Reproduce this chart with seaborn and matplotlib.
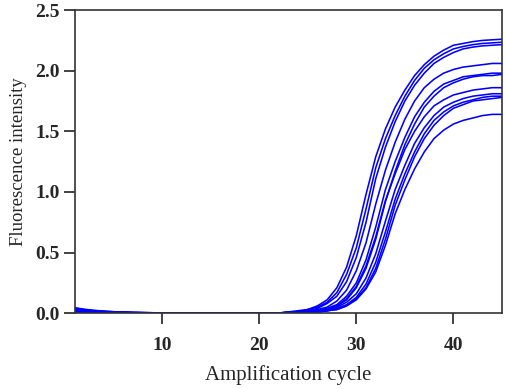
import pandas as pd
import seaborn as sns
import matplotlib
matplotlib.use("Agg")
import matplotlib.pyplot as plt

# Zyklen 1..45
cycles = list(range(1, 46))

# Fluoreszenzkurven, je 45 Werte
c1 = [0.045, 0.032, 0.023, 0.017, 0.012, 0.009, 0.006, 0.005, 0.003, 0.002, 0.002, 0.001, 0.001,
      0, 0, 0, 0, 0, 0, 0, 0,
      0.00, 0.01, 0.02, 0.03, 0.06, 0.11, 0.21, 0.38, 0.64, 0.98, 1.29, 1.52, 1.70, 1.84, 1.96, 2.05,
      2.12, 2.17, 2.21, 2.225, 2.24, 2.25, 2.255, 2.26]
c2 = [0.040, 0.029, 0.021, 0.015, 0.011, 0.008, 0.006, 0.004, 0.003, 0.002, 0.001, 0.001, 0.001,
      0, 0, 0, 0, 0, 0, 0, 0,
      0.00, 0.01, 0.01, 0.03, 0.05, 0.09, 0.17, 0.32, 0.54, 0.86, 1.20, 1.44, 1.63, 1.79, 1.92, 2.02,
      2.09, 2.14, 2.18, 2.20, 2.215, 2.225, 2.23, 2.235]
c3 = [0.035, 0.025, 0.018, 0.013, 0.009, 0.007, 0.005, 0.004, 0.003, 0.002, 0.001, 0.001, 0,
      0, 0, 0, 0, 0, 0, 0, 0,
      0.00, 0.01, 0.01, 0.02, 0.04, 0.08, 0.14, 0.26, 0.46, 0.75, 1.11, 1.37, 1.58, 1.75, 1.88, 1.98,
      2.06, 2.11, 2.15, 2.18, 2.195, 2.205, 2.21, 2.215]
c4 = [0.030, 0.022, 0.016, 0.011, 0.008, 0.006, 0.004, 0.003, 0.002, 0.002, 0.001, 0.001, 0,
      0, 0, 0, 0, 0, 0, 0, 0,
      0.00, 0.00, 0.01, 0.01, 0.03, 0.05, 0.10, 0.19, 0.35, 0.58, 0.90, 1.18, 1.41, 1.60, 1.75, 1.86,
      1.93, 1.98, 2.01, 2.03, 2.04, 2.05, 2.06, 2.06]
c5 = [0.025, 0.018, 0.013, 0.009, 0.007, 0.005, 0.003, 0.003, 0.002, 0.001, 0.001, 0, 0,
      0, 0, 0, 0, 0, 0, 0, 0,
      0.00, 0.00, 0.01, 0.01, 0.02, 0.04, 0.07, 0.14, 0.25, 0.44, 0.71, 1.02, 1.25, 1.45, 1.62, 1.74,
      1.83, 1.89, 1.92, 1.95, 1.96, 1.97, 1.98, 1.98]
c6 = [0.020, 0.014, 0.010, 0.007, 0.005, 0.004, 0.003, 0.002, 0.001, 0.001, 0.001, 0, 0,
      0, 0, 0, 0, 0, 0, 0, 0,
      0.00, 0.00, 0.00, 0.01, 0.02, 0.03, 0.06, 0.11, 0.21, 0.37, 0.61, 0.92, 1.17, 1.39, 1.56, 1.70,
      1.79, 1.86, 1.90, 1.93, 1.95, 1.96, 1.96, 1.97]
c7 = [0.015, 0.011, 0.008, 0.006, 0.004, 0.003, 0.002, 0.002, 0.001, 0.001, 0, 0, 0,
      0, 0, 0, 0, 0, 0, 0, 0,
      0.00, 0.00, 0.00, 0.01, 0.02, 0.03, 0.06, 0.12, 0.22, 0.39, 0.63, 0.93, 1.15, 1.35, 1.50, 1.62,
      1.71, 1.76, 1.80, 1.82, 1.84, 1.85, 1.86, 1.86]
c8 = [0.030, 0.022, 0.016, 0.011, 0.008, 0.006, 0.004, 0.003, 0.002, 0.002, 0.001, 0.001, 0,
      0, 0, 0, 0, 0, 0, 0, 0,
      0.00, 0.00, 0.00, 0.01, 0.01, 0.02, 0.05, 0.09, 0.16, 0.29, 0.49, 0.76, 1.02, 1.22, 1.40, 1.53,
      1.63, 1.70, 1.74, 1.77, 1.79, 1.80, 1.81, 1.81]
c9 = [0.010, 0.007, 0.005, 0.004, 0.003, 0.002, 0.001, 0.001, 0.001, 0, 0, 0, 0,
      0, 0, 0, 0, 0, 0, 0, 0,
      0.00, 0.00, 0.00, 0.01, 0.01, 0.02, 0.04, 0.07, 0.13, 0.24, 0.42, 0.67, 0.94, 1.15, 1.33, 1.48,
      1.59, 1.66, 1.71, 1.74, 1.76, 1.78, 1.79, 1.79]
c10 = [0.005, 0.004, 0.003, 0.002, 0.001, 0.001, 0.001, 0, 0, 0, 0, 0, 0,
       0, 0, 0, 0, 0, 0, 0, 0,
       0.00, 0.00, 0.00, 0.00, 0.01, 0.02, 0.03, 0.06, 0.12, 0.21, 0.37, 0.61, 0.89, 1.10, 1.29, 1.44,
       1.55, 1.63, 1.69, 1.72, 1.75, 1.76, 1.77, 1.78]
c11 = [0.020, 0.014, 0.010, 0.007, 0.005, 0.004, 0.003, 0.002, 0.001, 0.001, 0.001, 0, 0,
       0, 0, 0, 0, 0, 0, 0, 0,
       0.00, 0.00, 0.00, 0.00, 0.01, 0.02, 0.03, 0.06, 0.11, 0.20, 0.34, 0.56, 0.82, 1.02, 1.19, 1.33,
       1.44, 1.51, 1.56, 1.59, 1.61, 1.63, 1.64, 1.64]

kurven = [c1, c2, c3, c4, c5, c6, c7, c8, c9, c10, c11]

# Long-Format fuer seaborn
rows = []
for i, werte in enumerate(kurven):
    for x, v in zip(cycles, werte):
        rows.append({"kurve": i, "cycle": x, "value": v})
df = pd.DataFrame(rows)

sns.set_style("ticks")
plt.rcParams["font.family"] = ["Liberation Serif", "DejaVu Serif"]

fig = plt.figure(figsize=(5.05, 3.89), dpi=100)
ax = fig.add_axes([0.148, 0.195, 0.846, 0.779])

sns.lineplot(data=df, x="cycle", y="value", hue="kurve",
             palette=["#0000ff"] * len(kurven), legend=False, lw=1.15, ax=ax)

ax.set_xlim(1, 45)
ax.set_ylim(0, 2.5)
ax.set_xticks([10, 20, 30, 40])
ax.set_yticks([0, 0.5, 1.0, 1.5, 2.0, 2.5])
ax.set_yticklabels(["0.0", "0.5", "1.0", "1.5", "2.0", "2.5"])
ax.tick_params(length=8, width=1.2, labelsize=14, color="#222222")
ax.tick_params(axis="x", pad=9.5)
ax.tick_params(axis="y", pad=3)
for t in ax.get_xticklabels() + ax.get_yticklabels():
    t.set_fontweight("bold")
for s in ax.spines.values():
    s.set_visible(True)
    s.set_linewidth(1.2)
    s.set_color("#333333")

ax.set_xlabel("Amplification cycle", fontsize=15, labelpad=8)
ax.set_ylabel("Fluorescence intensity", fontsize=13.5, labelpad=6)

fig.savefig("out.png", dpi=100)
